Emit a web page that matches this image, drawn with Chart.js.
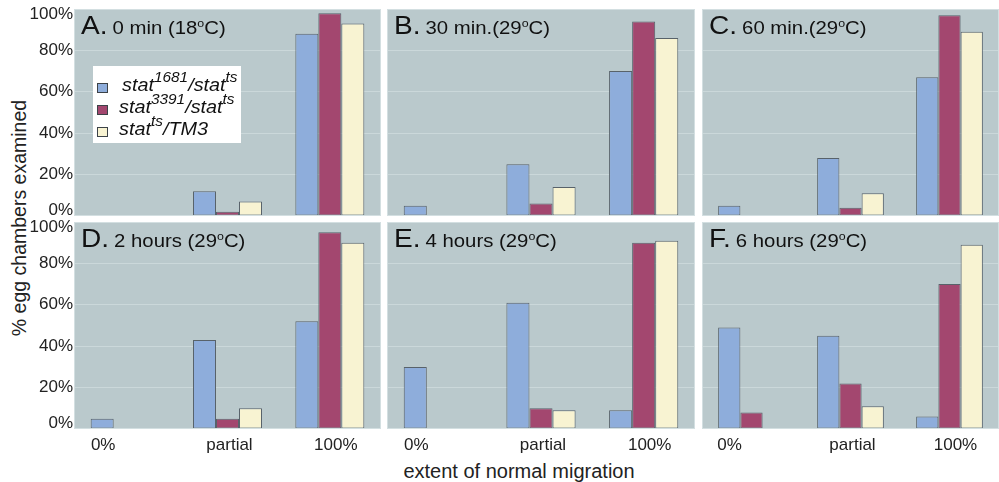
<!DOCTYPE html>
<html>
<head>
<meta charset="utf-8">
<script src="https://cdn.jsdelivr.net/npm/chart.js@4.4.1/dist/chart.umd.min.js"></script>
<style>
  body { margin: 0; background: #fff; }
  #wrap { position: relative; width: 999px; height: 482px; overflow: hidden; font-family: "Liberation Sans", Arial, sans-serif; color: #222; }
  #wrap canvas { position: absolute; }
  .ytitle { position: absolute; left: 19px; top: 218px; transform: translate(-50%, -50%) rotate(-90deg); white-space: nowrap; font-size: 19.5px; }
  .xtitle { position: absolute; left: 519px; top: 471px; transform: translate(-50%, -50%); white-space: nowrap; font-size: 20px; }
</style>
</head>
<body>
<div id="wrap">
  <div class="ytitle">% egg chambers examined</div>
  <div class="xtitle">extent of normal migration</div>
</div>
<script>
// data (% of egg chambers)
const categories = ['0%', 'partial', '100%'];
const seriesNames = ['stat1681/stat_ts', 'stat3391/stat_ts', 'stat_ts/TM3'];
const panelLetters = ['A.', 'B.', 'C.', 'D.', 'E.', 'F.'];
const panelTimes = ['0 min (18', '30 min.(29', '60 min.(29', '2 hours (29', '4 hours (29', '6 hours (29'];
const stat1681 = [[0, 12, 88], [5, 25, 70], [5, 28, 67], [5, 43, 52], [30, 61, 9], [49, 45, 6]];
const stat3391 = [[0, 2, 98], [0, 6, 94], [0, 4, 97], [0, 5, 95], [0, 10, 90], [8, 22, 70]];
const statTM3 = [[0, 7, 93], [0, 14, 86], [0, 11, 89], [0, 10, 90], [0, 9, 91], [0, 11, 89]];
const yTicks = [0, 20, 40, 60, 80, 100];

const colors = ['#8eaddb', '#a3476f', '#f8f3d2'];
const FONT = '"Liberation Sans", Arial, sans-serif';

// layout of the 3x2 grid
const cols = [
    { left: 0, width: 381, axisW: 74 },
    { left: 387, width: 308, axisW: 0 },
    { left: 702, width: 297, axisW: 0 }
];
const rows = [
    { top: 0, height: 224, padTop: 9, padBottom: 8, axisH: 0 },
    { top: 210, height: 255, padTop: 12, padBottom: 0, axisH: 36 }
];
// the category labels in the figure are not centred on their groups
const xLabelShift = [-22, 2, 6];

// panel background + border
const panelBg = {
    id: 'panelBg',
    beforeDraw(chart) {
        const a = chart.chartArea, c = chart.ctx;
        c.save();
        c.fillStyle = '#bac9cc';
        c.fillRect(a.left, a.top, a.right - a.left, a.bottom - a.top);
        c.restore();
    },
    afterDraw(chart) {
        const a = chart.chartArea, c = chart.ctx;
        c.save();
        c.strokeStyle = '#d3dfe1';
        c.lineWidth = 1;
        c.strokeRect(a.left + 0.5, a.top + 0.5, a.right - a.left - 1, a.bottom - a.top - 1);
        c.restore();
    }
};

// tick labels; the end labels of y sit a little inside the panel like in the figure
const axisLabels = {
    id: 'axisLabels',
    afterDraw(chart, args, opts) {
        const c = chart.ctx;
        c.save();
        c.font = '17px ' + FONT;
        c.fillStyle = '#222';
        c.textBaseline = 'middle';
        if (opts.y) {
            const s = chart.scales.y;
            c.textAlign = 'right';
            yTicks.forEach(v => {
                let y = s.getPixelForValue(v);
                if (v === s.max) y += 5;
                if (v === s.min) y -= 6;
                c.fillText(v + '%', s.right - 1, y);
            });
        }
        if (opts.x) {
            const s = chart.scales.x;
            c.textAlign = 'center';
            categories.forEach((lab, i) => {
                c.fillText(lab, s.getPixelForValue(i) + xLabelShift[i], chart.chartArea.bottom + 16);
            });
        }
        c.restore();
    }
};

// draws text pieces, some raised as superscripts, stretched by sx; returns end x
function drawRuns(c, x, y, runs, sx) {
    c.save();
    c.translate(x, y);
    c.scale(sx, 1);
    let cx = 0;
    runs.forEach(r => {
        c.font = r.font;
        c.fillText(r.text, cx, -(r.rise || 0));
        cx += c.measureText(r.text).width + (r.gap || 0);
    });
    c.restore();
    return x + cx * sx;
}

const panelTitle = {
    id: 'panelTitle',
    afterDraw(chart, args, opts) {
        const a = chart.chartArea, c = chart.ctx;
        c.save();
        c.fillStyle = '#111';
        c.textBaseline = 'alphabetic';
        const end = drawRuns(c, a.left + 7, a.top + 25, [{ text: opts.letter, font: '26px ' + FONT }], 1.08);
        drawRuns(c, end + 5, a.top + 25, [
            { text: opts.time, font: '18px ' + FONT },
            { text: 'o', font: '11px ' + FONT, rise: 7 },
            { text: 'C)', font: '18px ' + FONT }
        ], 1.13);
        c.restore();
    }
};

const legendBox = {
    id: 'legendBox',
    afterDraw(chart, args, opts) {
        if (!opts.show) return;
        const c = chart.ctx;
        c.save();
        c.fillStyle = '#fff';
        c.fillRect(93, 66, 148, 77);
        const it = 'italic 18px ' + FONT, sup = 'italic 14px ' + FONT;
        const lines = [
            [{ text: 'stat', font: it }, { text: '1681', font: sup, rise: 9 }, { text: '/stat', font: it }, { text: 'ts', font: sup, rise: 9 }],
            [{ text: 'stat', font: it }, { text: '3391', font: sup, rise: 9 }, { text: '/stat', font: it }, { text: 'ts', font: sup, rise: 9 }],
            [{ text: 'stat', font: it }, { text: 'ts', font: sup, rise: 9 }, { text: '/TM3', font: it }]
        ];
        const ys = [91, 113, 135];
        lines.forEach((ln, i) => {
            c.fillStyle = colors[i];
            c.fillRect(97, ys[i] - 8, 11, 10);
            c.strokeStyle = '#3c4248';
            c.lineWidth = 1;
            c.strokeRect(97.5, ys[i] - 7.5, 10, 9);
            c.fillStyle = '#111';
            drawRuns(c, i === 0 ? 122 : 119, ys[i], ln, 1.1);
        });
        c.restore();
    }
};

const wrap = document.getElementById('wrap');

for (let p = 0; p < 6; p++) {
    const col = cols[p % 3], row = rows[Math.floor(p / 3)];
    const canvas = document.createElement('canvas');
    canvas.width = col.width;
    canvas.height = row.height;
    canvas.style.left = col.left + 'px';
    canvas.style.top = row.top + 'px';
    wrap.appendChild(canvas);

    const series = [stat1681[p], stat3391[p], statTM3[p]];

    new Chart(canvas, {
        type: 'bar',
        data: {
            labels: categories,
            datasets: series.map((vals, i) => ({
                label: seriesNames[i],
                data: vals,
                backgroundColor: colors[i],
                borderColor: '#58626a',
                borderWidth: 1,
                borderSkipped: false,
                categoryPercentage: 0.674,
                barPercentage: 1.0
            }))
        },
        options: {
            responsive: false,
            animation: false,
            layout: { padding: { top: row.padTop, bottom: row.padBottom, left: 0, right: 0 } },
            plugins: {
                legend: { display: false },
                tooltip: { enabled: false },
                panelTitle: { letter: panelLetters[p], time: panelTimes[p] },
                legendBox: { show: p === 0 },
                axisLabels: { y: col.axisW > 0, x: p >= 3 }
            },
            scales: {
                x: {
                    grid: { display: false, drawTicks: false },
                    border: { display: false },
                    ticks: { display: false },
                    afterFit: s => {
                        s.height = row.axisH;
                        s.paddingLeft = 0;
                        s.paddingRight = 0;
                    }
                },
                y: {
                    min: 0,
                    max: 100,
                    afterBuildTicks: s => { s.ticks = yTicks.map(v => ({ value: v })); },
                    grid: {
                        drawTicks: false,
                        color: ctx => (ctx.tick && ctx.tick.value % 100 === 0) ? 'rgba(0,0,0,0)' : '#cbd8da',
                        lineWidth: 1
                    },
                    border: { display: false },
                    ticks: { display: false },
                    afterFit: s => {
                        s.width = col.axisW;
                        s.paddingTop = 0;
                        s.paddingBottom = 0;
                    }
                }
            }
        },
        plugins: [panelBg, axisLabels, panelTitle, legendBox]
    });
}
</script>
</body>
</html>
